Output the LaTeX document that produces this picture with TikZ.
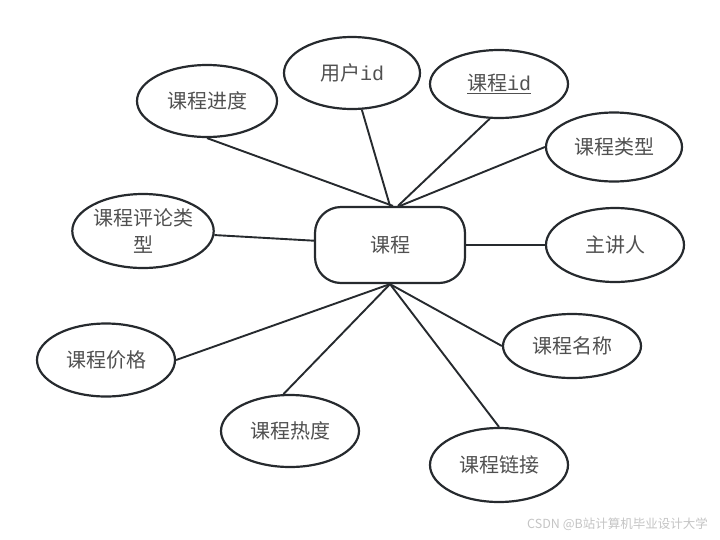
\documentclass[tikz,border=0pt]{standalone}
\usepackage{fontspec}
\setmainfont{Noto Sans CJK SC}
\newfontfamily\monoid{Liberation Mono}
\usetikzlibrary{shapes.geometric}
\definecolor{edgec}{HTML}{262A2E}
\definecolor{txtc}{HTML}{505050}
\definecolor{wmc}{HTML}{C4C4C4}
\begin{document}
\begin{tikzpicture}[x=1pt,y=-1pt,
  attr/.style={ellipse, draw=edgec, line width=2.2pt, inner sep=0pt, text=txtc,
    font=\fontsize{20}{27}\selectfont, align=center},
  entity/.style={rectangle, rounded corners=26pt, draw=edgec, line width=2.2pt, inner sep=0pt,
    text=txtc, font=\fontsize{20}{27}\selectfont, minimum width=150pt, minimum height=76pt},
  link/.style={draw=edgec, line width=1.9pt}]
\useasboundingbox (0,0) rectangle (720,539);
\node[entity] (c) at (390,245) {课程};
\node[attr, minimum width=140pt, minimum height=72pt] (jd) at (207,101) {课程进度};
\node[attr, minimum width=136pt, minimum height=72pt] (yh) at (352,73) {用户{\monoid id}};
\node[attr, minimum width=138pt, minimum height=68pt] (kid) at (499,84) {\underline{课程{\monoid id}}};
\node[attr, minimum width=136pt, minimum height=69pt] (lx) at (614,147) {课程类型};
\node[attr, minimum width=140pt, minimum height=74pt] (pl) at (143,231) {课程评论类\\型};
\node[attr, minimum width=138pt, minimum height=74pt] (zj) at (615,245) {主讲人};
\node[attr, minimum width=138pt, minimum height=73pt] (jg) at (106,360) {课程价格};
\node[attr, minimum width=138pt, minimum height=72pt] (rd) at (290,431) {课程热度};
\node[attr, minimum width=138pt, minimum height=64pt] (mc) at (572,346) {课程名称};
\node[attr, minimum width=138pt, minimum height=74pt] (lj) at (499,465) {课程链接};
\draw[link] (jd.south) -- ([xshift=3pt]c.north);
\draw[link] (yh.-75) -- ([xshift=0pt]c.north);
\draw[link] (kid.-105) -- ([xshift=8pt]c.north);
\draw[link] (lx.west) -- ([xshift=10pt]c.north);
\draw[link] (pl) -- (c);
\draw[link] (zj.west) -- (c.east);
\draw[link] (jg.east) -- (c.south);
\draw[link] (rd.100) -- (c.south);
\draw[link] (mc.west) -- (c.south);
\draw[link] (lj.north) -- (c.south);
\node[anchor=east, text=wmc, inner sep=0pt, font=\fontsize{12.5}{14}\selectfont] (wm) at (708,524) {CSDN @B站计算机毕业设计大学};
\end{tikzpicture}
\end{document}
